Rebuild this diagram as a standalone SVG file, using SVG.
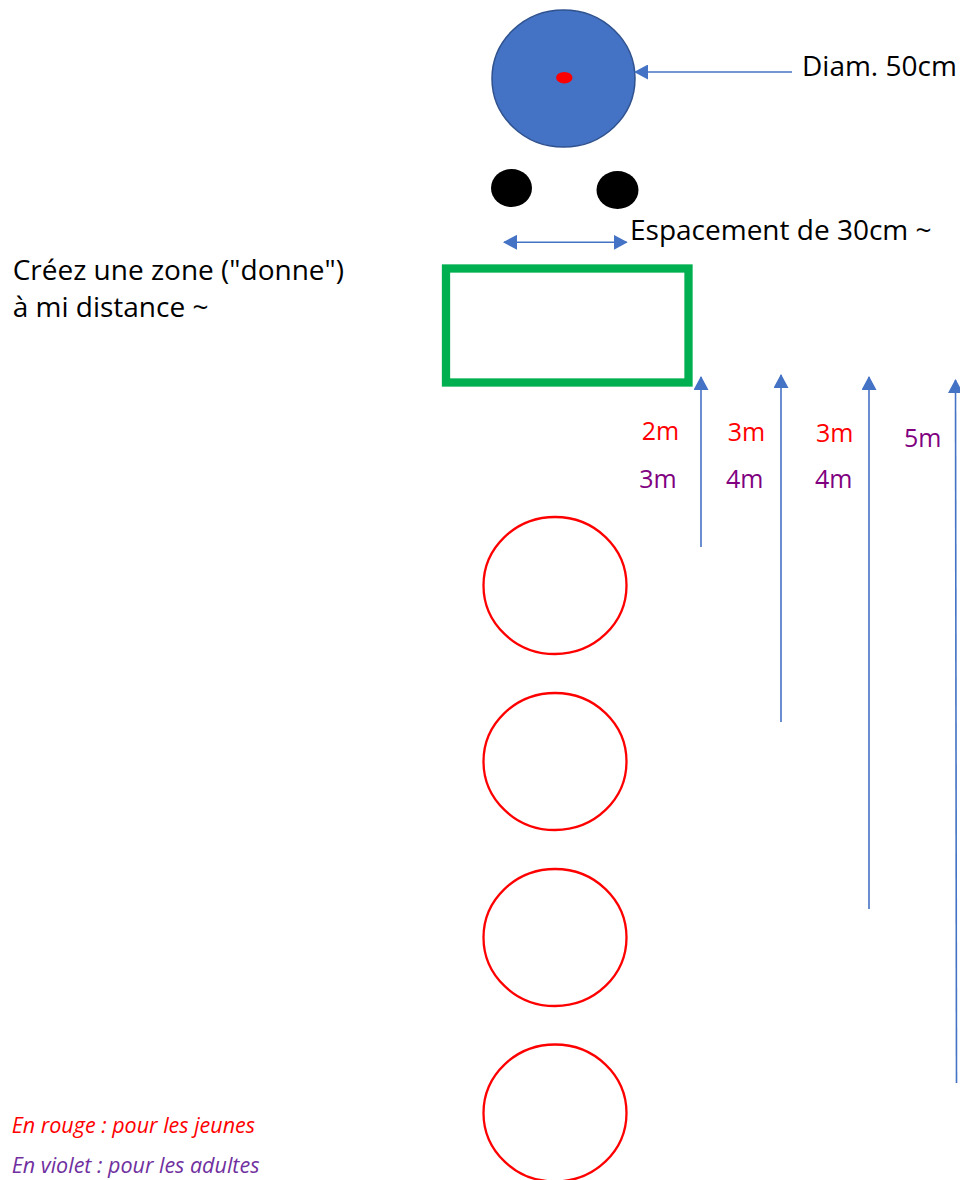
<svg xmlns="http://www.w3.org/2000/svg" width="960" height="1180" viewBox="0 0 960 1180">
  <style>
    .txt { font-family: "Open Sans", "Noto Sans", "Liberation Sans", sans-serif; }
    .note { font-size: 28px; fill: #000000; }
    .dist { font-size: 25px; }
    .young { fill: #FF0000; }
    .adult { fill: #800080; }
    .legend { font-size: 21.5px; font-style: italic; }
    .ring { fill: none; stroke: #FF0000; stroke-width: 2.3; }
    .conn { stroke: #4472C4; stroke-width: 1.6; fill: none; }
  </style>
  <defs>
    <marker id="head" viewBox="0 0 14 15" refX="13" refY="7.5" markerWidth="14" markerHeight="15" markerUnits="userSpaceOnUse" orient="auto-start-reverse">
      <path d="M0,0 L14,7.5 L0,15 Z" fill="#4472C4"/>
    </marker>
  </defs>

  <rect width="960" height="1180" fill="#FFFFFF"/>

  <!-- target -->
  <g id="target">
    <ellipse cx="563.5" cy="78.5" rx="71.5" ry="68.5" fill="#4472C4" stroke="#2F528F" stroke-width="1.5"/>
    <ellipse cx="564.3" cy="77.7" rx="8.2" ry="5.8" fill="#FF0000"/>
  </g>

  <!-- feet markers -->
  <g id="foot-left">
    <ellipse cx="511.5" cy="188" rx="20.5" ry="19" fill="#000000"/>
  </g>
  <g id="foot-right">
    <ellipse cx="617.5" cy="190" rx="21" ry="19" fill="#000000"/>
  </g>

  <!-- "donne" zone -->
  <g id="zone">
    <rect x="446" y="268.5" width="242.5" height="114" fill="none" stroke="#00B050" stroke-width="8.3"/>
  </g>

  <!-- throwing rings -->
  <g id="ring-1"><ellipse class="ring" cx="555" cy="585.5" rx="71.5" ry="68.5"/></g>
  <g id="ring-2"><ellipse class="ring" cx="555" cy="761.5" rx="71.5" ry="68.5"/></g>
  <g id="ring-3"><ellipse class="ring" cx="555" cy="937.5" rx="71.5" ry="68.5"/></g>
  <g id="ring-4"><ellipse class="ring" cx="555" cy="1113" rx="71.5" ry="68.5"/></g>

  <!-- connectors -->
  <g id="connectors">
    <line class="conn" x1="792" y1="72" x2="635" y2="72" marker-end="url(#head)"/>
    <line class="conn" x1="504" y1="242.3" x2="626.7" y2="242.3" marker-start="url(#head)" marker-end="url(#head)"/>
    <line class="conn" x1="701" y1="547" x2="701" y2="377" marker-end="url(#head)"/>
    <line class="conn" x1="781" y1="722" x2="781" y2="375" marker-end="url(#head)"/>
    <line class="conn" x1="869" y1="909" x2="869" y2="377" marker-end="url(#head)"/>
    <line class="conn" x1="956.5" y1="1083" x2="955.5" y2="380" marker-end="url(#head)"/>
  </g>

  <!-- labels -->
  <g id="labels" class="txt">
    <text class="note" x="802" y="76">Diam. 50cm</text>
    <text class="note" x="630" y="240">Espacement de 30cm ~</text>
    <text class="note" x="12.7" y="280">Créez une zone ("donne")</text>
    <text class="note" x="12.7" y="317">à mi distance ~</text>

    <text class="dist young" x="641.7" y="440">2m</text>
    <text class="dist young" x="727.7" y="441">3m</text>
    <text class="dist young" x="816" y="442">3m</text>
    <text class="dist adult" x="904" y="447">5m</text>
    <text class="dist adult" x="639.3" y="488">3m</text>
    <text class="dist adult" x="726" y="488">4m</text>
    <text class="dist adult" x="815" y="488">4m</text>

    <text class="legend" x="11.7" y="1133" fill="#FF0000">En rouge : pour les jeunes</text>
    <text class="legend" x="11.7" y="1173" fill="#7030A0">En violet : pour les adultes</text>
  </g>
</svg>
